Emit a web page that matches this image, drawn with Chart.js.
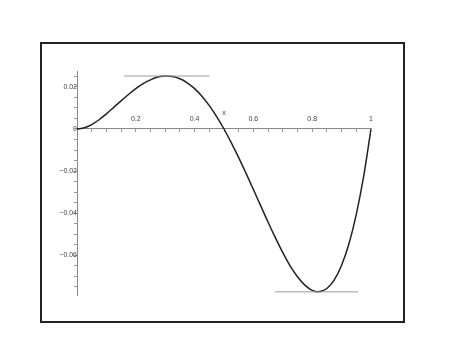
<!DOCTYPE html>
<html>
<head>
<meta charset="utf-8">
<script src="https://cdn.jsdelivr.net/npm/chart.js"></script>
<style>
  html, body { margin: 0; padding: 0; background: #fff; }
  #wrap { position: relative; width: 474px; height: 355px; }
  #frame { position: absolute; left: 40px; top: 42px; width: 361px; height: 277px; border: 2px solid #222; }
  canvas { position: absolute; left: 0; top: 0; }
</style>
</head>
<body>
<div id="wrap">
  <div id="frame"></div>
  <canvas id="plot" width="474" height="355"></canvas>
</div>
<script>
// curve samples
const xs = [0, 0.025, 0.05, 0.075, 0.1, 0.125, 0.15, 0.175, 0.2, 0.225, 0.25, 0.275, 0.3, 0.325, 0.35, 0.375, 0.4, 0.425, 0.45, 0.475,
            0.5, 0.525, 0.55, 0.575, 0.6, 0.625, 0.65, 0.675, 0.7, 0.725, 0.75, 0.775, 0.8, 0.82, 0.85, 0.875, 0.9, 0.925, 0.95, 0.975, 1];
const ys = [0, 0.0006, 0.0021, 0.0044, 0.0072, 0.0103, 0.0134, 0.0164, 0.0192, 0.0216, 0.0234, 0.0247, 0.0252, 0.0250, 0.0239, 0.0220, 0.0192, 0.0156, 0.0111, 0.0059,
            0, -0.0066, -0.0136, -0.0211, -0.0288, -0.0366, -0.0444, -0.0518, -0.0588, -0.0651, -0.0703, -0.0743, -0.0768, -0.0775, -0.0759, -0.0718, -0.0648, -0.0546, -0.0406, -0.0226, 0];

// horizontal tangent segments at the max and min
const maxLineX = [0.16, 0.45];
const maxLineY = 0.0252;
const minLineX = [0.673, 0.956];
const minLineY = -0.0775;

const xMajor = [0.2, 0.4, 0.6, 0.8, 1];
const yMajor = [0.02, 0, -0.02, -0.04, -0.06];

const pts = xs.map((x, i) => ({ x, y: ys[i] }));
const seg = (xx, y) => xx.map(x => ({ x, y }));
const near = (v, list) => list.some(m => Math.abs(m - v) < 1e-9);

const axisLabel = {
  id: 'axisLabel',
  afterDraw(chart) {
    const c = chart.ctx, sx = chart.scales.x, sy = chart.scales.y;
    c.save();
    c.font = '7px "Liberation Sans", Arial, sans-serif';
    c.fillStyle = '#444';
    c.textAlign = 'center';
    c.textBaseline = 'middle';
    c.fillText('x', sx.getPixelForValue(0.5), sy.getPixelForValue(0) - 16);
    c.restore();
  }
};

new Chart(document.getElementById('plot'), {
  type: 'line',
  data: {
    datasets: [
      { data: seg(maxLineX, maxLineY), borderColor: '#9a9a9a', borderWidth: 1, pointRadius: 0 },
      { data: seg(minLineX, minLineY), borderColor: '#9a9a9a', borderWidth: 1, pointRadius: 0 },
      { data: pts, borderColor: '#222', borderWidth: 1.5, pointRadius: 0, cubicInterpolationMode: 'monotone' }
    ]
  },
  options: {
    responsive: false,
    animation: false,
    layout: { padding: { left: 77, right: 103, top: 71, bottom: 60 } },
    plugins: { legend: { display: false }, tooltip: { enabled: false } },
    scales: {
      x: {
        type: 'linear',
        position: { y: 0 },
        min: 0, max: 1,
        border: { color: '#888', width: 1 },
        grid: { drawOnChartArea: false, drawTicks: true, tickLength: 3, color: '#999' },
        ticks: {
          stepSize: 0.05,
          includeBounds: false,
          padding: -17,
          maxRotation: 0,
          autoSkip: false,
          color: '#444',
          font: { family: '"Liberation Sans", Arial, sans-serif', size: 7 },
          callback: v => near(v, xMajor) ? String(+v.toFixed(1)) : ''
        }
      },
      y: {
        type: 'linear',
        position: { x: 0 },
        min: -0.079, max: 0.0276,
        border: { color: '#888', width: 1 },
        grid: { drawOnChartArea: false, drawTicks: true, tickLength: 3, color: '#999' },
        ticks: {
          stepSize: 0.005,
          includeBounds: false,
          padding: 4,
          autoSkip: false,
          color: '#444',
          font: { family: '"Liberation Sans", Arial, sans-serif', size: 7 },
          callback: v => near(v, yMajor) ? (v === 0 ? '0' : (v < 0 ? '\u2212' : '') + Math.abs(v).toFixed(2)) : ''
        }
      }
    }
  },
  plugins: [axisLabel]
});
</script>
</body>
</html>
